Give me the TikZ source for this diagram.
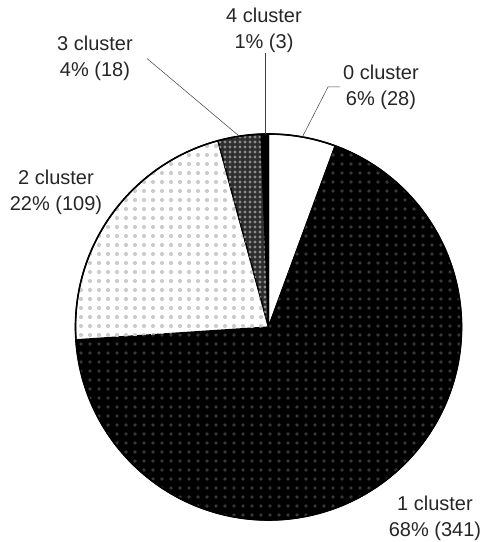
\documentclass[tikz,border=0pt]{standalone}
\usepackage{fontspec}
\setmainfont{Liberation Sans}
\usetikzlibrary{patterns.meta,positioning}
\newcommand\lblfont{\fontsize{20}{26}\selectfont}
\tikzset{
    slice/.style={draw=black, line width=1.3pt, line join=round},
    fz/.style={fill=white},
    fe/.style={fill=black, postaction={pattern={Dots[distance=9pt, radius=1.9pt]}, pattern color=black!78}},
    ftw/.style={fill=white, postaction={pattern={Dots[distance=9pt, radius=2.1pt]}, pattern color=black!20}},
    fth/.style={fill=black!82, postaction={pattern={Dots[distance=5pt, radius=1.6pt]}, pattern color=black!45}},
    ff/.style={fill=black},
    lbl/.style={align=center, font=\lblfont, text=black!85, inner sep=0pt},
    pil/.style={black!75, line width=0.5pt}
}

\begin{document}
\begin{tikzpicture}[x=1pt, y=1pt]
    \useasboundingbox (0,0) rectangle (484,542);
    \def\r{193}
    \coordinate (c) at (268.5,215);
    % slices, clockwise from the top
    \foreach \a/\b/\st in {90/69.8/fz, 69.8/-176.2/fe, 183.8/105.2/ftw, 105.2/92.2/fth, 92.2/90/ff}
      \draw[slice,\st] (c) -- ++(\a:\r) arc[start angle=\a, end angle=\b, radius=\r] -- cycle;
    \draw[line width=1.6pt] (c) circle[radius=\r];
    % labels
    \node[lbl] (n4) at (264,512) {4 cluster\\1\% (3)};
    \node[lbl] (n0) at (381,455) {0 cluster\\6\% (28)};
    \node[lbl] (n3) at (95,483.5) {3 cluster\\4\% (18)};
    \node[lbl] (n2) at (56,350) {2 cluster\\22\% (109)};
    \node[lbl] (n1) at (435,24) {1 cluster\\68\% (341)};
    % leader lines
    \path (c) ++(91:\r) coordinate (e4);
    \path (c) ++(79.9:\r) coordinate (e0);
    \path (c) ++(98.7:\r) coordinate (e3);
    \coordinate (k0) at (328,455);
    \draw[pil] (e4) -- (e4 |- n4.south);
    \draw[pil] (e0) -- (k0) -- ([xshift=-3pt]n0.west);
    \draw[pil] (e3) -- ([xshift=14pt]n3.east);
\end{tikzpicture}
\end{document}
